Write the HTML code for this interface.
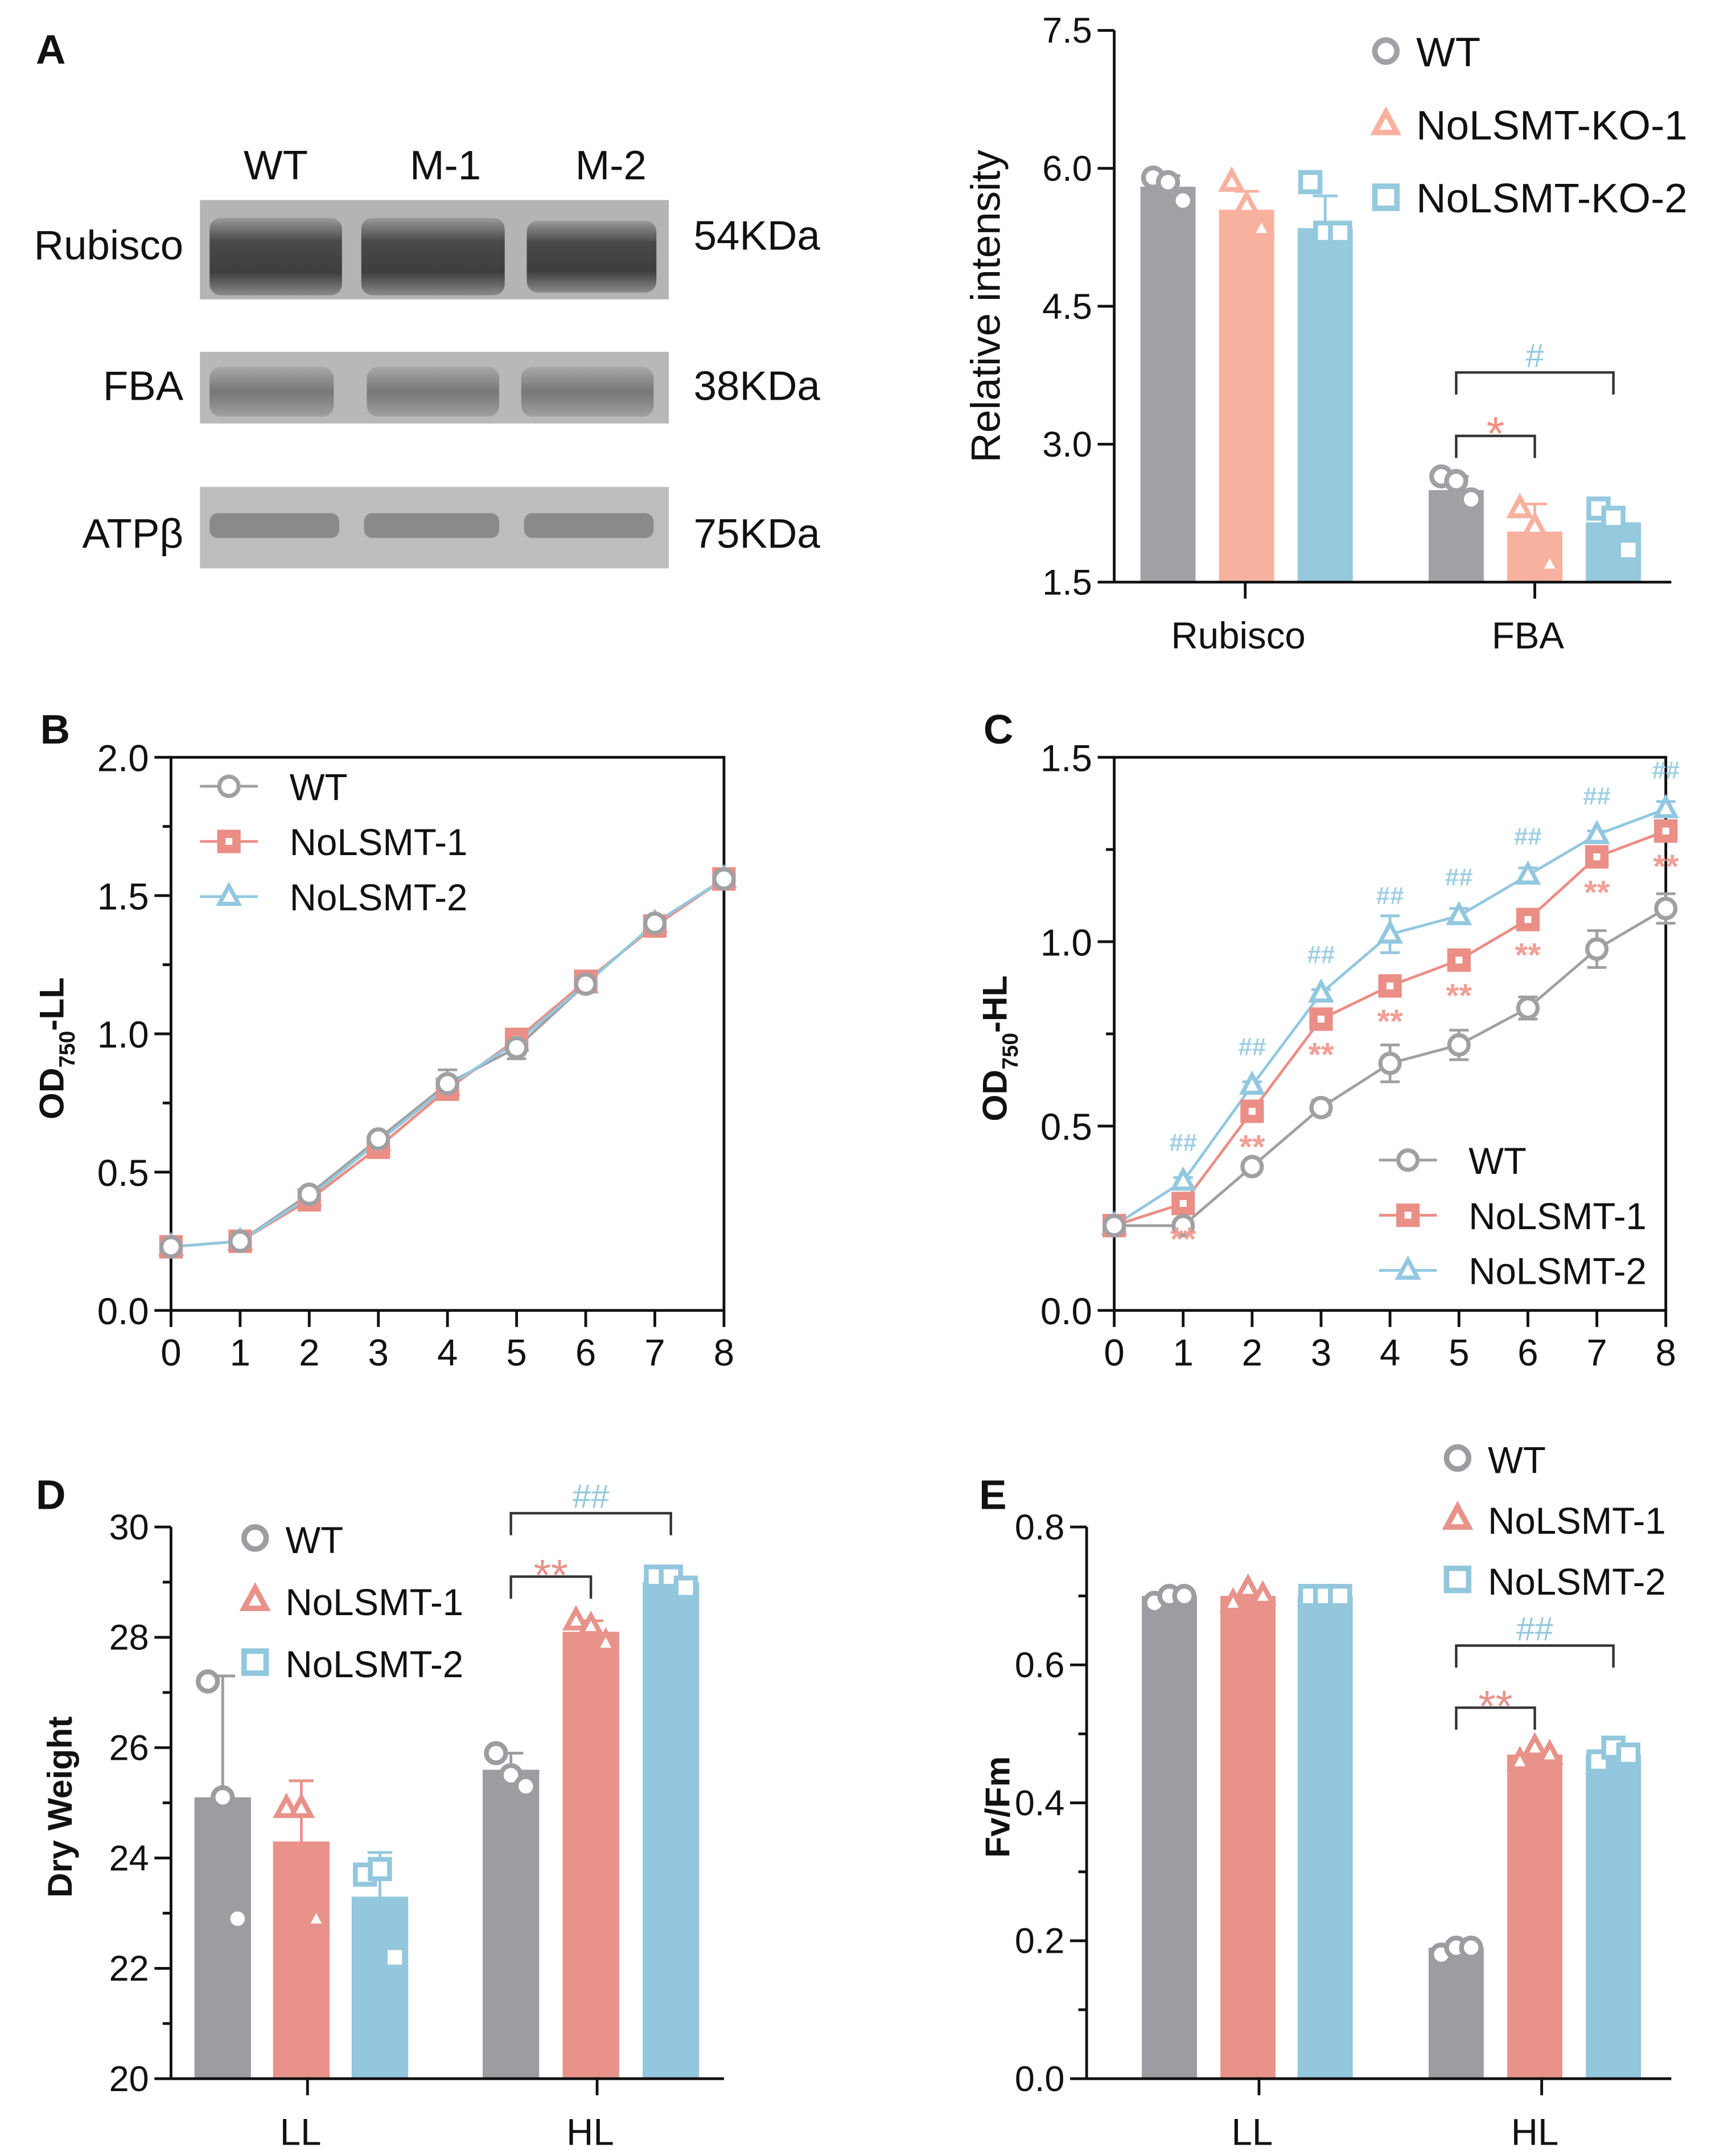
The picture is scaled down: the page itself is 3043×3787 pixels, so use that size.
<!DOCTYPE html>
<html><head><meta charset="utf-8"><style>
html,body{margin:0;padding:0;background:#fff}
svg{display:block}
text{font-family:"Liberation Sans",Arial,sans-serif}
</style></head><body>
<svg id="fig" width="3043" height="3787" viewBox="0 0 1256 1563" xmlns="http://www.w3.org/2000/svg" fill="#111">
<defs>
<linearGradient id="lane" x1="0" y1="0" x2="0" y2="1">
<stop offset="0" stop-color="#9a9a9a"/><stop offset="0.3" stop-color="#4a4a4a"/><stop offset="0.7" stop-color="#3e3e3e"/><stop offset="1" stop-color="#8a8a8a"/></linearGradient>
<linearGradient id="lane2" x1="0" y1="0" x2="0" y2="1">
<stop offset="0" stop-color="#a8a8a8"/><stop offset="0.5" stop-color="#777"/><stop offset="1" stop-color="#a0a0a0"/></linearGradient>
</defs>
<g id="blot">
<text x="26" y="46" font-size="30" font-weight="bold">A</text>
<text x="200" y="130" font-size="30" text-anchor="middle">WT</text>
<text x="323" y="130" font-size="30" text-anchor="middle">M-1</text>
<text x="443" y="130" font-size="30" text-anchor="middle">M-2</text>
<rect x="145" y="145" width="340" height="72" fill="#b4b4b4"/>
<rect x="152" y="158" width="96" height="56" fill="url(#lane)" rx="8"/><rect x="262" y="158" width="104" height="56" fill="url(#lane)" rx="8"/><rect x="382" y="160" width="94" height="52" fill="url(#lane)" rx="8"/>
<rect x="145" y="255" width="340" height="52" fill="#b8b8b8"/>
<rect x="152" y="266" width="90" height="36" fill="url(#lane2)" rx="8"/><rect x="266" y="266" width="96" height="36" fill="url(#lane2)" rx="8"/><rect x="378" y="266" width="96" height="36" fill="url(#lane2)" rx="8"/>
<rect x="145" y="353" width="340" height="59" fill="#bdbdbd"/>
<rect x="152" y="372" width="94" height="18" fill="#8a8a8a" rx="6"/><rect x="264" y="372" width="98" height="18" fill="#8a8a8a" rx="6"/><rect x="380" y="372" width="94" height="18" fill="#8a8a8a" rx="6"/>
<text x="133" y="188" font-size="30" text-anchor="end">Rubisco</text>
<text x="133" y="290" font-size="30" text-anchor="end">FBA</text>
<text x="133" y="397" font-size="30" text-anchor="end">ATPβ</text>
<text x="503" y="181" font-size="30">54KDa</text>
<text x="503" y="290" font-size="30">38KDa</text>
<text x="503" y="397" font-size="30">75KDa</text>
</g>
<text x="26" y="1094" font-size="30" font-weight="bold">D</text>
<text x="710" y="1094" font-size="30" font-weight="bold">E</text>
<g id="pA"></g>
<g id="pB"></g>
<g id="pC"></g>
<g id="pD"></g>
<g id="pE"></g>
</svg>
<script>
// ---- data ----
const aCategories = ['Rubisco','FBA'];
const aSeries = ['WT','NoLSMT-KO-1','NoLSMT-KO-2'];
const aMeans = [[5.8,5.55,5.35],[2.5,2.05,2.15]];
const aSD = [[0.12,0.2,0.35],[0.15,0.3,0.15]];
const aPoints = [[[5.9,5.85,5.65],[5.85,5.6,5.35],[5.85,5.3,5.3]],[[2.65,2.6,2.4],[2.3,2.1,1.7],[2.3,2.2,1.85]]];
const aTicks = [1.5,3.0,4.5,6.0,7.5];

const bX = [0,1,2,3,4,5,6,7,8];
const bWT = [0.23,0.25,0.42,0.62,0.82,0.95,1.18,1.4,1.56];
const bM1 = [0.23,0.25,0.40,0.59,0.80,0.98,1.19,1.39,1.56];
const bM2 = [0.23,0.25,0.41,0.61,0.81,0.97,1.18,1.40,1.56];
const bErr = [0.01,0.01,0.02,0.02,0.05,0.04,0.03,0.02,0.02];
const bTicks = [0,0.5,1.0,1.5,2.0];

const cX = [0,1,2,3,4,5,6,7,8];
const cWT = [0.23,0.23,0.39,0.55,0.67,0.72,0.82,0.98,1.09];
const cM1 = [0.23,0.29,0.54,0.79,0.88,0.95,1.06,1.23,1.30];
const cM2 = [0.23,0.35,0.61,0.86,1.02,1.07,1.18,1.29,1.36];
const cErrWT = [0.01,0.01,0.01,0.02,0.05,0.04,0.03,0.05,0.04];
const cErrM2 = [0.01,0.01,0.01,0.01,0.05,0.02,0.02,0.01,0.02];
const cTicks = [0,0.5,1.0,1.5];

const dCategories = ['LL','HL'];
const dSeries = ['WT','NoLSMT-1','NoLSMT-2'];
const dMeans = [[25.1,24.3,23.3],[25.6,28.1,29.0]];
const dSD = [[2.2,1.1,0.8],[0.3,0.2,0.1]];
const dPoints = [[[27.2,25.1,22.9],[24.9,24.9,22.9],[23.7,23.8,22.2]],[[25.9,25.5,25.3],[28.3,28.2,27.9],[29.1,29.1,28.9]]];
const dTicks = [20,22,24,26,28,30];

const eCategories = ['LL','HL'];
const eMeans = [[0.70,0.70,0.70],[0.19,0.47,0.47]];
const ePoints = [[[0.69,0.70,0.70],[0.69,0.71,0.70],[0.70,0.70,0.70]],[[0.18,0.19,0.19],[0.46,0.48,0.47],[0.46,0.48,0.47]]];
const eTicks = [0,0.2,0.4,0.6,0.8];

// ---- helpers ----
const NS='http://www.w3.org/2000/svg';
function mk(parent,tag,attrs){const e=document.createElementNS(NS,tag);for(const k in attrs)e.setAttribute(k,attrs[k]);parent.appendChild(e);return e;}
function txt(parent,x,y,s,size,anchor,fill){const t=mk(parent,'text',{x:x,y:y,'font-size':size,'text-anchor':anchor||'start'});t.style.fill=fill||'#111';t.textContent=s;return t;}
function lin(d0,d1,r0,r1){return v=>r0+(v-d0)/(d1-d0)*(r1-r0);}
function marker(g,shape,x,y,r,col,fill,sw){
  let e;
  if(shape==='circle')e=mk(g,'circle',{cx:x,cy:y,r:r});
  else if(shape==='square')e=mk(g,'rect',{x:x-r,y:y-r,width:2*r,height:2*r});
  else e=mk(g,'polygon',{points:`${x},${y-r*1.1} ${x-r},${y+r*0.75} ${x+r},${y+r*0.75}`});
  e.setAttribute('fill',fill);e.setAttribute('stroke',col);e.setAttribute('stroke-width',sw);
  return e;
}
function fmt(v,dec){return v.toFixed(dec);}

// ---- bar chart builder ----
function barChart(gid,o){
  const g=document.getElementById(gid);
  const y=lin(o.ymin,o.ymax,o.y0,o.y1);
  o.means.forEach((grp,ci)=>grp.forEach((m,si)=>{
    const bx=o.barX[ci][si];
    const r=mk(g,'rect',{x:bx,y:y(m),width:o.bw,height:o.y0-y(m),fill:o.colors[si]});
    
    
    if(o.sd){const s=o.sd[ci][si];const cx=bx+o.bw/2;
      mk(g,'line',{x1:cx,x2:cx,y1:y(m),y2:y(m+s),stroke:o.colors[si],'stroke-width':2});
      mk(g,'line',{x1:cx-9,x2:cx+9,y1:y(m+s),y2:y(m+s),stroke:o.colors[si],'stroke-width':2});}
    const offs=[-9,0,9];
    o.points[ci][si].forEach((p,k)=>{
      const pm=marker(g,o.shapes[si],bx+o.bw/2+offs[k]*1.2,y(p),7,o.dotStroke[si],'#fff',3.5);
      
      
    });
  }));
  const ax=mk(g,'g',{});
  
  
  mk(ax,'line',{x1:o.ax,x2:o.ax,y1:o.y0,y2:o.y1,stroke:'#111','stroke-width':2});
  o.ticks.forEach(t=>{mk(ax,'line',{x1:o.ax-12,x2:o.ax,y1:y(t),y2:y(t),stroke:'#111','stroke-width':2});
    txt(ax,o.ax-16,y(t)+9,fmt(t,o.dec),26,'end');});
  if(o.minor)for(let i=0;i<o.ticks.length-1;i++){const m=(o.ticks[i]+o.ticks[i+1])/2;mk(ax,'line',{x1:o.ax-6,x2:o.ax,y1:y(m),y2:y(m),stroke:'#111','stroke-width':2});}
  const xa=mk(g,'g',{});
  
  
  mk(xa,'line',{x1:o.ax,x2:o.xEnd,y1:o.y0,y2:o.y0,stroke:'#111','stroke-width':2});
  o.cats.forEach((c,i)=>{mk(xa,'line',{x1:o.catX[i],x2:o.catX[i],y1:o.y0,y2:o.y0+12,stroke:'#111','stroke-width':2});
    txt(xa,o.catX[i]-5,o.y0+48,c,27,'middle');});
  const yt=txt(g,0,0,o.ytitle,o.ytSize,'middle');
  yt.setAttribute('transform',`translate(${o.ytX},${o.ytY}) rotate(-90)`);
  yt.setAttribute('font-weight',o.ytBold?'bold':'normal');
  
  o.series.forEach((s,i)=>{const ly=o.legY+i*o.legDy;
    const lm=marker(g,o.shapes[i],o.legX,ly,8,o.dotStroke[i],'#fff',4);
    
    
    const lt=txt(g,o.legX+22,ly+11,s,o.legSize,'start');
    
    });
  o.brackets.forEach(b=>{
    const x1=o.barX[b.ci][0]+o.bw/2,x2=o.barX[b.ci][b.si]+o.bw/2;
    mk(g,'path',{d:`M${x1},${b.y+16}V${b.y}H${x2}V${b.y+16}`,fill:'none',stroke:'#333','stroke-width':1.8});
    const st=txt(g,(x1+x2)/2,b.y-4+b.dy,b.s,b.size,'middle',b.col);
    
  });
  return y;
}

barChart('pA',{ymin:1.5,ymax:7.5,y0:422,y1:22,ax:808,xEnd:1212,bw:40,dec:1,minor:false,
  barX:[[827,884,941],[1036,1093,1150]],catX:[903,1113],cats:aCategories,series:aSeries,
  means:aMeans,sd:aSD,points:aPoints,ticks:aTicks,
  colors:['#a0a0a5','#f9b19f','#94c9de'],dotStroke:['#a0a0a5','#f9b19f','#94c9de'],
  shapes:['circle','triangle','square'],ytitle:'Relative intensity',ytSize:30,ytX:725,ytY:222,ytBold:false,
  legX:1005,legY:37,legDy:53,legSize:30,
  brackets:[{ci:1,si:1,y:316,s:'*',col:'#f28f80',size:34,dy:14},{ci:1,si:2,y:270,s:'#',col:'#94c9de',size:24,dy:0}]});

barChart('pD',{ymin:20,ymax:30,y0:1507,y1:1107,ax:124,xEnd:525,bw:41,dec:0,minor:true,
  barX:[[141,198,255],[350,408,466]],catX:[223,433],cats:dCategories,series:dSeries,
  means:dMeans,sd:dSD,points:dPoints,ticks:dTicks,
  colors:['#9d9ca1','#e8928a','#92c7dd'],dotStroke:['#9d9ca1','#e8928a','#92c7dd'],
  shapes:['circle','triangle','square'],ytitle:'Dry Weight',ytSize:25,ytX:52,ytY:1310,ytBold:true,
  legX:185,legY:1115,legDy:45,legSize:27,
  brackets:[{ci:1,si:1,y:1143,s:'**',col:'#e8928a',size:32,dy:14},{ci:1,si:2,y:1097,s:'##',col:'#92c7dd',size:24,dy:0}]});

barChart('pE',{ymin:0,ymax:0.8,y0:1507,y1:1107,ax:788,xEnd:1212,bw:40,dec:1,minor:true,
  barX:[[828,885,941],[1036,1093,1150]],catX:[913,1118],cats:eCategories,series:dSeries,
  means:eMeans,sd:null,points:ePoints,ticks:eTicks,
  colors:['#9d9ca1','#e8928a','#92c7dd'],dotStroke:['#9d9ca1','#e8928a','#92c7dd'],
  shapes:['circle','triangle','square'],ytitle:'Fv/Fm',ytSize:25,ytX:732,ytY:1310,ytBold:true,
  legX:1057,legY:1057,legDy:44,legSize:27,
  brackets:[{ci:1,si:1,y:1238,s:'**',col:'#e8928a',size:32,dy:14},{ci:1,si:2,y:1193,s:'##',col:'#92c7dd',size:24,dy:0}]});

// ---- line chart builder ----
function lineChart(gid,o){
  const g=document.getElementById(gid);
  const x=lin(0,8,o.x0,o.x1), y=lin(o.ymin,o.ymax,o.y0,o.y1);
  mk(g,'rect',{x:o.x0,y:o.y1,width:o.x1-o.x0,height:o.y0-o.y1,fill:'none',stroke:'#111','stroke-width':2});
  o.ticks.forEach(t=>{mk(g,'line',{x1:o.x0-12,x2:o.x0,y1:y(t),y2:y(t),stroke:'#111','stroke-width':2});
    const tl=txt(g,o.x0-16,y(t)+10,t.toFixed(1),27,'end');
    });
  for(let i=0;i<o.ticks.length-1;i++){const m=(o.ticks[i]+o.ticks[i+1])/2;mk(g,'line',{x1:o.x0-6,x2:o.x0,y1:y(m),y2:y(m),stroke:'#111','stroke-width':2});}
  o.xs.forEach(v=>{mk(g,'line',{x1:x(v),x2:x(v),y1:o.y0,y2:o.y0+12,stroke:'#111','stroke-width':2});
    const tl=txt(g,x(v),o.y0+40,String(v),27,'middle');
    });
  o.series.forEach((s,si)=>{
    const pts=s.vals.map((v,i)=>x(o.xs[i])+','+y(v)).join(' ');
    const pl=mk(g,'polyline',{points:pts,fill:'none',stroke:s.col,'stroke-width':2});
    
    
    if(s.err)s.vals.forEach((v,i)=>{const cx=x(o.xs[i]),e=s.err[i];
      mk(g,'path',{d:`M${cx},${y(v-e)}V${y(v+e)}M${cx-7},${y(v-e)}H${cx+7}M${cx-7},${y(v+e)}H${cx+7}`,stroke:s.col,'stroke-width':2,fill:'none'});});
  });
  o.series.slice().reverse().forEach(s=>{
    s.vals.forEach((v,i)=>{const m=marker(g,s.shape,x(o.xs[i]),y(v),7,s.col,s.shape==='square'?s.col:'#fff',3);
      
      
      if(s.shape==='square')mk(g,'rect',{x:x(o.xs[i])-2.5,y:y(v)-2.5,width:5,height:5,fill:'#fff'});});
  });
  if(o.sig){o.sig.forEach((sg)=>{sg.vals.forEach((v,i)=>{if(i===0)return;
    const tt=txt(g,x(o.xs[i]),y(v)+sg.off,sg.s,sg.size,'middle',sg.col);
    tt.setAttribute('font-weight','bold');
    });});}
  o.series.forEach((s,i)=>{const ly=o.legY+i*40;
    mk(g,'line',{x1:o.legX,x2:o.legX+42,y1:ly,y2:ly,stroke:s.col,'stroke-width':2});
    const lm=marker(g,s.shape,o.legX+21,ly,7,s.col,s.shape==='square'?s.col:'#fff',3);
    
    if(s.shape==='square')mk(g,'rect',{x:o.legX+18.5,y:ly-2.5,width:5,height:5,fill:'#fff'});
    const lt=txt(g,o.legX+65,ly+10,s.name,27,'start');
    
    });
  txt(g,o.lblX,o.y1-10,o.lbl,30,'middle').setAttribute('font-weight','bold');
  const yt=mk(g,'text',{transform:`translate(${o.ytX},${o.ytY}) rotate(-90)`,'font-size':25,'font-weight':'bold','text-anchor':'middle'});
  yt.style.fill='#111';
  
  yt.innerHTML='OD<tspan font-size="16" dy="8">750</tspan><tspan dy="-8">-'+o.ytSuf+'</tspan>';
}
const gray='#a0a0a3',sal='#ea8e86',blu='#92c8df';
lineChart('pB',{x0:124,x1:525,y0:950,y1:549,ymin:0,ymax:2,ticks:bTicks,xs:bX,
  series:[{name:'WT',vals:bWT,col:gray,shape:'circle',err:bErr},{name:'NoLSMT-1',vals:bM1,col:sal,shape:'square'},{name:'NoLSMT-2',vals:bM2,col:blu,shape:'triangle'}],
  legX:145,legY:570,lbl:'B',lblX:40,ytX:46,ytY:760,ytSuf:'LL'});
lineChart('pC',{x0:808,x1:1208,y0:950,y1:549,ymin:0,ymax:1.5,ticks:cTicks,xs:cX,
  series:[{name:'WT',vals:cWT,col:gray,shape:'circle',err:cErrWT},{name:'NoLSMT-1',vals:cM1,col:sal,shape:'square'},{name:'NoLSMT-2',vals:cM2,col:blu,shape:'triangle',err:cErrM2}],
  sig:[{vals:cM1,s:'**',off:34,col:'#f0a096',size:24},{vals:cM2,s:'##',off:-22,col:'#9fcfe3',size:18}],
  legX:1000,legY:841,lbl:'C',lblX:724,ytX:730,ytY:760,ytSuf:'HL'});
</script>
</body></html>
